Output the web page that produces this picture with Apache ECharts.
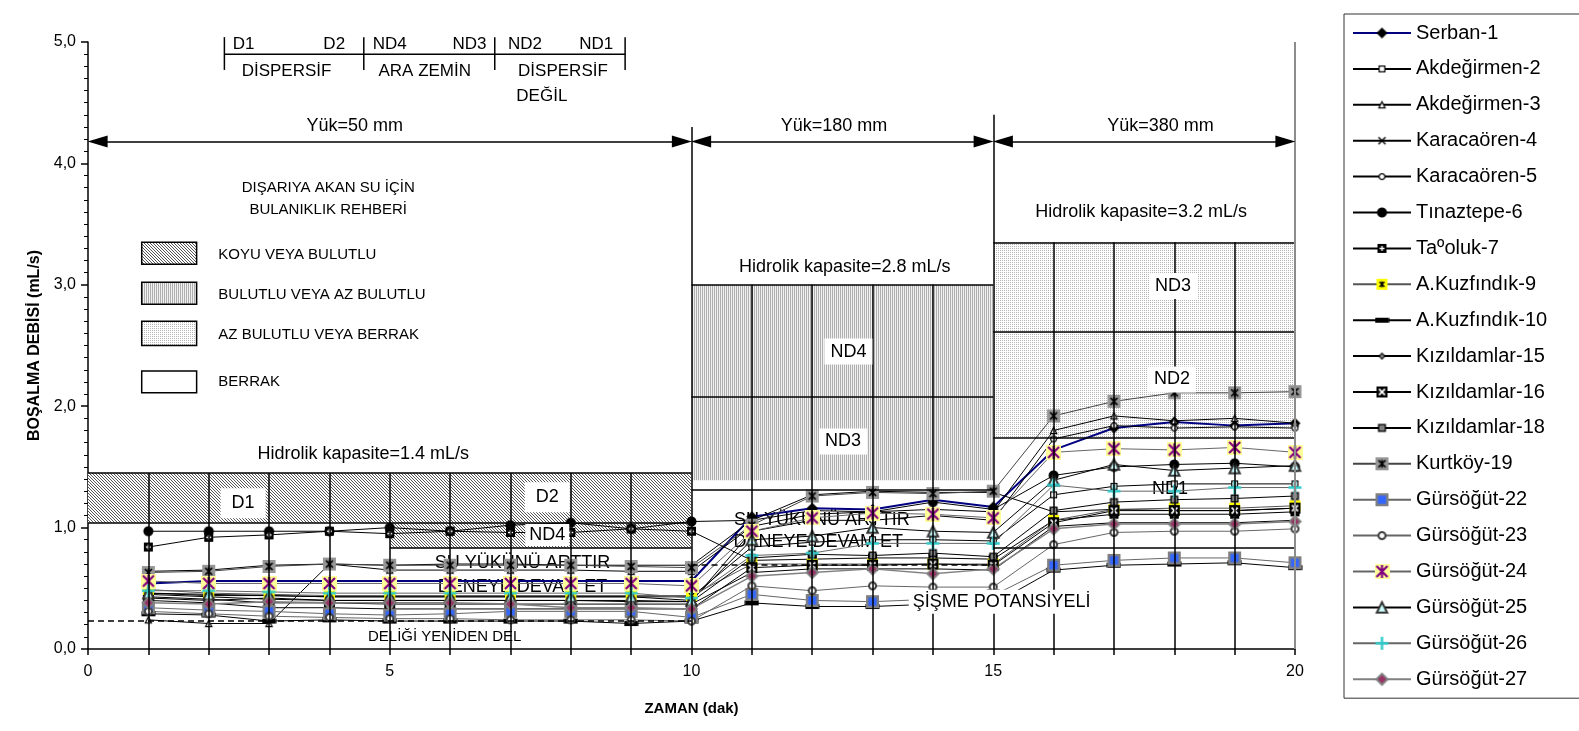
<!DOCTYPE html>
<html>
<head>
<meta charset="utf-8">
<title>Boşalma debisi - zaman</title>
<script src="https://cdn.jsdelivr.net/npm/echarts@6/dist/echarts.min.js"></script>
<style>
  html, body { margin: 0; padding: 0; background: #fff; }
  #chart { width: 1579px; height: 731px; }
</style>
</head>
<body>
<div id="chart"></div>
<script>
// zaman (dak)
var minutes = [1, 2, 3, 4, 5, 6, 7, 8, 9, 10, 11, 12, 13, 14, 15, 16, 17, 18, 19, 20];

// boşalma debisi (mL/s), one array per sample
var serban1 = [0.54, 0.56, 0.56, 0.56, 0.56, 0.56, 0.56, 0.56, 0.56, 0.56, 1.09, 1.16, 1.15, 1.23, 1.17, 1.64, 1.82, 1.87, 1.84, 1.86];
var akdegirmen2 = [0.46, 0.44, 0.44, 0.43, 0.43, 0.43, 0.43, 0.43, 0.43, 0.43, 0.84, 0.88, 0.90, 0.90, 0.89, 1.27, 1.34, 1.36, 1.36, 1.36];
var akdegirmen3 = [0.24, 0.21, 0.21, 0.70, 0.65, 0.65, 0.65, 0.65, 0.64, 0.64, 1.01, 1.11, 1.13, 1.15, 1.13, 1.80, 1.92, 1.88, 1.90, 1.86];
var karacaoren4 = [0.64, 0.65, 0.69, 0.70, 0.69, 0.70, 0.70, 0.69, 0.69, 0.69, 1.06, 1.27, 1.30, 1.29, 1.29, 1.13, 1.15, 1.14, 1.14, 1.16];
var karacaoren5 = [0.42, 0.40, 0.42, 0.40, 0.40, 0.40, 0.40, 0.40, 0.40, 0.39, 0.97, 1.06, 1.06, 1.10, 1.06, 1.73, 1.84, 1.82, 1.83, 1.82];
var tinaztepe6 = [0.97, 0.97, 0.97, 0.97, 1.00, 0.97, 1.02, 1.04, 0.99, 1.05, 1.06, 1.14, 1.13, 1.21, 1.15, 1.43, 1.50, 1.52, 1.53, 1.50];
var tasoluk7 = [0.84, 0.92, 0.94, 0.97, 0.95, 0.97, 0.96, 0.96, 0.99, 0.97, 0.73, 0.74, 0.75, 0.75, 0.74, 1.06, 1.11, 1.11, 1.11, 1.13];
var kuzfindik9 = [0.49, 0.46, 0.45, 0.44, 0.44, 0.44, 0.44, 0.44, 0.44, 0.44, 0.70, 0.70, 0.70, 0.70, 0.70, 1.06, 1.15, 1.16, 1.16, 1.18];
var kuzfindik10 = [0.29, 0.28, 0.23, 0.24, 0.23, 0.23, 0.23, 0.23, 0.21, 0.23, 0.38, 0.35, 0.35, 0.37, 0.37, 0.65, 0.69, 0.70, 0.71, 0.67];
var kizildamlar15 = [0.43, 0.41, 0.38, 0.38, 0.37, 0.37, 0.37, 0.37, 0.37, 0.37, 0.63, 0.66, 0.66, 0.66, 0.65, 1.01, 1.04, 1.04, 1.04, 1.06];
var kizildamlar16 = [0.40, 0.38, 0.34, 0.34, 0.33, 0.33, 0.33, 0.33, 0.33, 0.33, 0.67, 0.69, 0.69, 0.70, 0.69, 1.04, 1.14, 1.14, 1.14, 1.16];
var kizildamlar18 = [0.45, 0.43, 0.41, 0.40, 0.40, 0.40, 0.40, 0.40, 0.39, 0.39, 0.75, 0.78, 0.77, 0.79, 0.76, 1.14, 1.21, 1.23, 1.24, 1.26];
var kurtkoy19 = [0.63, 0.64, 0.68, 0.70, 0.69, 0.69, 0.69, 0.69, 0.68, 0.67, 1.02, 1.26, 1.29, 1.28, 1.30, 1.92, 2.04, 2.11, 2.11, 2.12];
var gursogut22 = [0.34, 0.32, 0.31, 0.29, 0.28, 0.29, 0.31, 0.31, 0.31, 0.26, 0.45, 0.40, 0.39, 0.41, 0.44, 0.69, 0.73, 0.75, 0.75, 0.71];
var gursogut23 = [0.31, 0.29, 0.27, 0.26, 0.25, 0.25, 0.24, 0.24, 0.24, 0.23, 0.52, 0.48, 0.52, 0.51, 0.51, 0.86, 0.96, 0.97, 0.97, 0.99];
var gursogut24 = [0.56, 0.54, 0.54, 0.54, 0.54, 0.54, 0.54, 0.54, 0.54, 0.52, 0.97, 1.08, 1.12, 1.11, 1.08, 1.62, 1.65, 1.64, 1.66, 1.62];
var gursogut25 = [0.46, 0.45, 0.44, 0.43, 0.43, 0.43, 0.43, 0.43, 0.43, 0.40, 0.90, 0.93, 1.00, 0.97, 0.96, 1.39, 1.52, 1.47, 1.49, 1.51];
var gursogut26 = [0.48, 0.48, 0.47, 0.46, 0.46, 0.46, 0.46, 0.46, 0.46, 0.42, 0.77, 0.79, 0.87, 0.87, 0.87, 1.35, 1.30, 1.30, 1.33, 1.33];
var gursogut27 = [0.38, 0.37, 0.39, 0.38, 0.38, 0.38, 0.37, 0.34, 0.34, 0.33, 0.60, 0.63, 0.66, 0.62, 0.66, 0.99, 1.03, 1.03, 1.03, 1.05];

var yTicks = [0, 1, 2, 3, 4, 5];
var xLabels = [0, 5, 10, 15, 20];

var FONT = '"Liberation Sans", Arial, sans-serif';

// ---- marker pictures (drawn on a canvas, centred in a fixed box) ----
var BOX = 15;
function icon(w, h, draw) {
  var k = 4;
  var c = document.createElement('canvas');
  c.width = BOX * k;
  c.height = BOX * k;
  var g = c.getContext('2d');
  g.scale(k, k);
  g.translate((BOX - w) / 2, (BOX - h) / 2);
  draw(g, w, h);
  return 'image://' + c.toDataURL();
}
function cross(g, s, pad, color, lw) {
  g.strokeStyle = color; g.lineWidth = lw;
  g.beginPath();
  g.moveTo(pad, pad); g.lineTo(s - pad, s - pad);
  g.moveTo(s - pad, pad); g.lineTo(pad, s - pad);
  g.stroke();
}
function vbar(g, s, pad, color, lw) {
  g.strokeStyle = color; g.lineWidth = lw;
  g.beginPath(); g.moveTo(s / 2, pad); g.lineTo(s / 2, s - pad); g.stroke();
}
function plus(g, s, pad, color, lw) {
  g.strokeStyle = color; g.lineWidth = lw;
  g.beginPath();
  g.moveTo(s / 2, pad); g.lineTo(s / 2, s - pad);
  g.moveTo(pad, s / 2); g.lineTo(s - pad, s / 2);
  g.stroke();
}
function sq(g, s, fill, stroke, lw) {
  var o = stroke ? lw / 2 : 0;
  g.fillStyle = fill;
  g.fillRect(o, o, s - 2 * o, s - 2 * o);
  if (stroke) { g.strokeStyle = stroke; g.lineWidth = lw; g.strokeRect(o, o, s - 2 * o, s - 2 * o); }
}
function circ(g, s, fill, stroke, lw) {
  g.beginPath();
  g.arc(s / 2, s / 2, s / 2 - (stroke ? lw / 2 : 0), 0, Math.PI * 2);
  g.fillStyle = fill; g.fill();
  if (stroke) { g.strokeStyle = stroke; g.lineWidth = lw; g.stroke(); }
}
function tri(g, s, fill, stroke, lw) {
  var o = (stroke ? lw / 2 : 0) + 0.3;
  g.beginPath();
  g.moveTo(s / 2, o); g.lineTo(s - o, s - o); g.lineTo(o, s - o); g.closePath();
  g.fillStyle = fill; g.fill();
  if (stroke) { g.strokeStyle = stroke; g.lineWidth = lw; g.stroke(); }
}
function dia(g, s, fill, stroke, lw) {
  var o = stroke ? lw / 2 : 0;
  g.beginPath();
  g.moveTo(s / 2, o); g.lineTo(s - o, s / 2); g.lineTo(s / 2, s - o); g.lineTo(o, s / 2); g.closePath();
  g.fillStyle = fill; g.fill();
  if (stroke) { g.strokeStyle = stroke; g.lineWidth = lw; g.stroke(); }
}

var SYM = {
  serban: icon(11, 11, function (g) { dia(g, 11, '#000'); }),
  akd2: icon(7, 7, function (g) { sq(g, 7, '#fff', '#000', 1.2); }),
  akd3: icon(8, 8, function (g) { tri(g, 8, '#fff', '#000', 1.2); }),
  kara4: icon(9, 9, function (g) { cross(g, 9, 1, '#000', 1.4); }),
  kara5: icon(7, 7, function (g) { circ(g, 7, '#fff', '#000', 1.2); }),
  tin6: icon(10, 10, function (g) { circ(g, 10, '#000'); }),
  tas7: icon(9, 9, function (g) { sq(g, 9, '#000'); plus(g, 9, 2, '#fff', 1.4); }),
  kuz9: icon(11, 11, function (g) { sq(g, 11, '#ffff00'); cross(g, 11, 3, '#000', 1.4); vbar(g, 11, 2.5, '#000', 1.4); }),
  kuz10: icon(14, 5, function (g) { g.fillStyle = '#000'; g.fillRect(0, 0, 14, 5); }),
  kiz15: icon(7, 7, function (g) { dia(g, 7, '#808080', '#000', 1); }),
  kiz16: icon(11, 11, function (g) { sq(g, 11, '#000'); cross(g, 11, 2.5, '#fff', 1.8); }),
  kiz18: icon(8, 8, function (g) { sq(g, 8, '#808080', '#000', 1.3); }),
  kurt19: icon(13, 13, function (g) { sq(g, 13, '#969696'); cross(g, 13, 3, '#000', 1.6); vbar(g, 13, 2.5, '#000', 1.6); }),
  gur22: icon(13, 13, function (g) { sq(g, 13, '#3366ff', '#808080', 2.4); }),
  gur23: icon(9, 9, function (g) { circ(g, 9, '#fff', '#404040', 2); }),
  gur24: icon(15, 15, function (g) { sq(g, 15, '#ffff99'); cross(g, 15, 2, '#800080', 2.2); vbar(g, 15, 1, '#800080', 2.2); }),
  gur25: icon(13, 13, function (g) { tri(g, 13, '#ccffff', '#333', 2); }),
  gur26: icon(13, 13, function (g) { plus(g, 13, 0, '#33cccc', 2.5); }),
  gur27: icon(13, 13, function (g) { dia(g, 13, '#993366', '#808080', 2); })
};

// ---- fill patterns for the turbidity guide ----
function pattern(w, h, draw) {
  var c = document.createElement('canvas');
  c.width = w; c.height = h;
  var g = c.getContext('2d');
  g.fillStyle = '#fff'; g.fillRect(0, 0, w, h);
  draw(g);
  return { image: c, repeat: 'repeat' };
}
var PAT = {
  koyu: pattern(3, 3, function (g) { g.fillStyle = '#555'; for (var i = 0; i < 3; i++) g.fillRect(i, i, 1, 1); }),
  bulutlu: pattern(2, 1, function (g) { g.fillStyle = '#b0b0b0'; g.fillRect(0, 0, 1, 1); g.fillStyle = '#f0f0f0'; g.fillRect(1, 0, 1, 1); }),
  az: pattern(2, 2, function (g) { g.fillStyle = '#b4b4b4'; g.fillRect(0, 0, 1, 1); }),
  berrak: '#fff'
};

var seriesDefs = [
  { name: 'Serban-1', data: serban1, sym: SYM.serban, color: '#000080', width: 2 },
  { name: 'Akdeğirmen-2', data: akdegirmen2, sym: SYM.akd2, color: '#000', width: 1 },
  { name: 'Akdeğirmen-3', data: akdegirmen3, sym: SYM.akd3, color: '#000', width: 1 },
  { name: 'Karacaören-4', data: karacaoren4, sym: SYM.kara4, color: '#000', width: 1 },
  { name: 'Karacaören-5', data: karacaoren5, sym: SYM.kara5, color: '#000', width: 1 },
  { name: 'Tınaztepe-6', data: tinaztepe6, sym: SYM.tin6, color: '#000', width: 1 },
  { name: 'Taºoluk-7', data: tasoluk7, sym: SYM.tas7, color: '#000', width: 1 },
  { name: 'A.Kuzfındık-9', data: kuzfindik9, sym: SYM.kuz9, color: '#555', width: 1 },
  { name: 'A.Kuzfındık-10', data: kuzfindik10, sym: SYM.kuz10, color: '#000', width: 1 },
  { name: 'Kızıldamlar-15', data: kizildamlar15, sym: SYM.kiz15, color: '#000', width: 1 },
  { name: 'Kızıldamlar-16', data: kizildamlar16, sym: SYM.kiz16, color: '#000', width: 1 },
  { name: 'Kızıldamlar-18', data: kizildamlar18, sym: SYM.kiz18, color: '#000', width: 1 },
  { name: 'Kurtköy-19', data: kurtkoy19, sym: SYM.kurt19, color: '#444', width: 1 },
  { name: 'Gürsöğüt-22', data: gursogut22, sym: SYM.gur22, color: '#666', width: 1 },
  { name: 'Gürsöğüt-23', data: gursogut23, sym: SYM.gur23, color: '#666', width: 1 },
  { name: 'Gürsöğüt-24', data: gursogut24, sym: SYM.gur24, color: '#666', width: 1 },
  { name: 'Gürsöğüt-25', data: gursogut25, sym: SYM.gur25, color: '#000', width: 1 },
  { name: 'Gürsöğüt-26', data: gursogut26, sym: SYM.gur26, color: '#666', width: 1 },
  { name: 'Gürsöğüt-27', data: gursogut27, sym: SYM.gur27, color: '#808080', width: 1.5 }
];

// ---- overlay: turbidity bands, drop lines, arrows (data coords) ----
var bands = [
  // x1, x2, y1, y2, fill
  [0, 10, 1.04, 1.45, 'koyu'],
  [5, 10, 0.83, 1.04, 'koyu'],
  [10, 15, 1.39, 3.00, 'bulutlu'],
  [15, 20, 1.74, 3.35, 'az']
];
var hLines = [
  [0, 10, 1.45], [0, 10, 1.04], [5, 10, 0.83],
  [10, 15, 3.00], [10, 15, 2.08], [10, 15, 1.31],
  [15, 20, 3.35], [15, 20, 2.61], [15, 20, 1.74], [15, 20, 0.83]
];
var dashLines = [[0, 10, 0.23], [10, 15, 0.69]];
var dropTops = [1.45, 1.45, 1.45, 1.45, 1.45, 1.45, 1.45, 1.45, 1.45, 4.30, 3.00, 3.00, 3.00, 3.00, 4.40, 3.35, 3.35, 3.35, 3.35];
var arrows = [[0, 10], [10, 15], [15, 20]];
var arrowY = 4.18;
var bracketXs = [2.26, 4.57, 6.74, 8.90];
var bracketY = [4.77, 4.90, 5.04];

var markLines = [];
hLines.forEach(function (l) {
  markLines.push([{ coord: [l[0], l[2]] }, { coord: [l[1], l[2]] }]);
});
dashLines.forEach(function (l) {
  markLines.push([{ coord: [l[0], l[2]], lineStyle: { type: [6, 4], width: 1.5, color: '#000' } }, { coord: [l[1], l[2]] }]);
});
dropTops.forEach(function (top, i) {
  markLines.push([{ coord: [i + 1, 0] }, { coord: [i + 1, top] }]);
});
markLines.push([{ coord: [20, 0], lineStyle: { color: '#8c8c8c', width: 2 } }, { coord: [20, 5] }]);
var tipGap = 0.16;
arrows.forEach(function (a) {
  markLines.push([
    { coord: [a[0] + tipGap, arrowY], symbol: 'triangle', symbolSize: [12, 20] },
    { coord: [a[1] - tipGap, arrowY], symbol: 'triangle', symbolSize: [12, 20] }
  ]);
});

var series = seriesDefs.map(function (d) {
  return {
    name: d.name,
    type: 'line',
    data: minutes.map(function (m, i) { return [m, d.data[i]]; }),
    symbol: d.sym,
    symbolSize: BOX,
    showAllSymbol: true,
    lineStyle: { color: d.color, width: d.width },
    itemStyle: { color: d.color },
    emphasis: { disabled: true },
    z: 3
  };
});
series.unshift({
  name: 'overlay',
  type: 'line',
  data: [],
  silent: true,
  z: 1,
  markArea: {
    silent: true,
    data: bands.map(function (b) {
      return [{ xAxis: b[0], yAxis: b[2], itemStyle: { color: PAT[b[4]], borderWidth: 0 } }, { xAxis: b[1], yAxis: b[3] }];
    })
  },
  markLine: {
    silent: true,
    symbol: ['none', 'none'],
    label: { show: false },
    lineStyle: { color: '#000', width: 1.5, type: 'solid' },
    emphasis: { disabled: true },
    data: markLines
  }
});

var chart = echarts.init(document.getElementById('chart'));
chart.setOption({
  animation: false,
  backgroundColor: '#fff',
  textStyle: { fontFamily: FONT },
  grid: { left: 88, right: 284, top: 42, bottom: 82 },
  xAxis: {
    type: 'value', min: 0, max: 20, interval: 1,
    name: 'ZAMAN (dak)', nameLocation: 'middle', nameGap: 52,
    nameTextStyle: { fontSize: 15, fontWeight: 'bold', color: '#000', fontFamily: FONT },
    axisLine: { lineStyle: { color: '#000', width: 1.5 } },
    axisTick: { length: 6, lineStyle: { color: '#000', width: 1.5 } },
    axisLabel: {
      fontSize: 16, color: '#000', margin: 15, fontFamily: FONT,
      formatter: function (v) { return xLabels.indexOf(v) >= 0 ? String(v) : ''; }
    },
    splitLine: { show: false }
  },
  yAxis: {
    type: 'value', min: yTicks[0], max: yTicks[yTicks.length - 1], interval: 1,
    name: 'BOŞALMA DEBİSİ (mL/s)', nameLocation: 'middle', nameGap: 42,
    nameTextStyle: { fontSize: 16, fontWeight: 'bold', color: '#000', fontFamily: FONT },
    axisLine: { show: true, lineStyle: { color: '#000', width: 1.5 } },
    axisTick: { show: true, length: 7, lineStyle: { color: '#000', width: 1.5 } },
    minorTick: { show: true, splitNumber: 10, length: 4, lineStyle: { color: '#000', width: 1 } },
    axisLabel: {
      fontSize: 16, color: '#000', margin: 12, fontFamily: FONT,
      formatter: function (v) { return v.toFixed(1).replace('.', ','); }
    },
    splitLine: { show: false }
  },
  legend: {
    data: seriesDefs.map(function (d) { return d.name; }),
    orient: 'vertical',
    left: 1344, top: 14,
    padding: [9, 36, 9, 8],
    itemWidth: 58, itemHeight: BOX / 0.8, itemGap: 15.9,
    borderColor: '#333', borderWidth: 1,
    textStyle: { fontSize: 20, lineHeight: 20, color: '#000', fontFamily: FONT },
    selectedMode: false
  },
  series: series
});

// ---- text notes, placed with the chart's own scales ----
var notes = [
  // x, y, text, size, boxed, align
  [2.58, 4.98, 'D1', 17], [4.08, 4.98, 'D2', 17], [5.0, 4.98, 'ND4', 17],
  [6.32, 4.98, 'ND3', 17], [7.24, 4.98, 'ND2', 17], [8.42, 4.98, 'ND1', 17],
  [3.29, 4.76, 'DİSPERSİF', 17], [5.58, 4.76, 'ARA ZEMİN', 17],
  [7.87, 4.76, 'DİSPERSİF', 17], [7.52, 4.55, 'DEĞİL', 17],
  [4.42, 4.31, 'Yük=50 mm', 18], [12.36, 4.31, 'Yük=180 mm', 18], [17.77, 4.31, 'Yük=380 mm', 18],
  [3.98, 3.80, 'DIŞARIYA AKAN SU İÇİN', 15], [3.98, 3.62, 'BULANIKLIK REHBERİ', 15],
  [2.16, 3.25, 'KOYU VEYA BULUTLU', 15, false, 'left'],
  [2.16, 2.92, 'BULUTLU VEYA AZ BULUTLU', 15, false, 'left'],
  [2.16, 2.59, 'AZ BULUTLU VEYA BERRAK', 15, false, 'left'],
  [2.16, 2.20, 'BERRAK', 15, false, 'left'],
  [4.56, 1.61, 'Hidrolik kapasite=1.4 mL/s', 18],
  [12.54, 3.15, 'Hidrolik kapasite=2.8 mL/s', 18],
  [17.45, 3.60, 'Hidrolik kapasite=3.2 mL/s', 18],
  [2.57, 1.20, 'D1', 18, [6, 11]], [7.61, 1.25, 'D2', 18, [6, 11]], [7.61, 0.94, 'ND4', 18, [2, 4]],
  [7.20, 0.71, 'SU YÜKÜNÜ ARTTIR', 18], [7.20, 0.51, 'DENEYE DEVAM ET', 18],
  [5.91, 0.10, 'DELİĞİ YENİDEN DEL', 15],
  [12.60, 2.45, 'ND4', 18, [4, 6]], [12.51, 1.71, 'ND3', 18, [4, 6]],
  [12.16, 1.06, 'SU YÜKÜNÜ ARTTIR', 18], [12.10, 0.88, 'DENEYE DEVAM ET', 18],
  [13.60, 0.39, 'ŞİŞME POTANSİYELİ', 18, [3, 4], 'left'],
  [17.98, 2.99, 'ND3', 18, [4, 6]], [17.96, 2.22, 'ND2', 18, [4, 6]], [17.93, 1.32, 'ND1', 18]
];
var swatches = [
  // x1, x2, y1, y2, fill
  [0.89, 1.80, 3.17, 3.35, 'koyu'],
  [0.89, 1.80, 2.84, 3.02, 'bulutlu'],
  [0.89, 1.80, 2.50, 2.70, 'az'],
  [0.89, 1.80, 2.11, 2.29, 'berrak']
];

function px(x, y) { return chart.convertToPixel({ gridIndex: 0 }, [x, y]); }

var graphics = [];
notes.forEach(function (n) {
  var p = px(n[0], n[1]);
  var style = {
    text: n[2], fontSize: n[3], fontFamily: FONT, fill: '#000',
    align: n[5] || 'center', verticalAlign: 'middle'
  };
  if (n[4]) { style.backgroundColor = '#fff'; style.padding = n[4]; }
  graphics.push({ type: 'text', x: p[0], y: p[1], z: n[4] ? 50 : 0, silent: true, style: style });
});
swatches.forEach(function (s) {
  var a = px(s[0], s[3]);
  var b = px(s[1], s[2]);
  graphics.push({
    type: 'rect', z: 50, silent: true,
    shape: { x: a[0], y: a[1], width: b[0] - a[0], height: b[1] - a[1] },
    style: { fill: PAT[s[4]], stroke: '#000', lineWidth: 1.5 }
  });
});
// bracket over the soil classes
var bl = px(bracketXs[0], bracketY[1]);
var br = px(bracketXs[bracketXs.length - 1], bracketY[1]);
graphics.push({ type: 'line', silent: true, shape: { x1: bl[0], y1: bl[1], x2: br[0], y2: br[1] }, style: { stroke: '#000', lineWidth: 1.5 } });
bracketXs.forEach(function (x) {
  var lo = px(x, bracketY[0]);
  var hi = px(x, bracketY[2]);
  graphics.push({ type: 'line', silent: true, shape: { x1: lo[0], y1: lo[1], x2: hi[0], y2: hi[1] }, style: { stroke: '#000', lineWidth: 1.5 } });
});
chart.setOption({ graphic: graphics });
</script>
</body>
</html>
